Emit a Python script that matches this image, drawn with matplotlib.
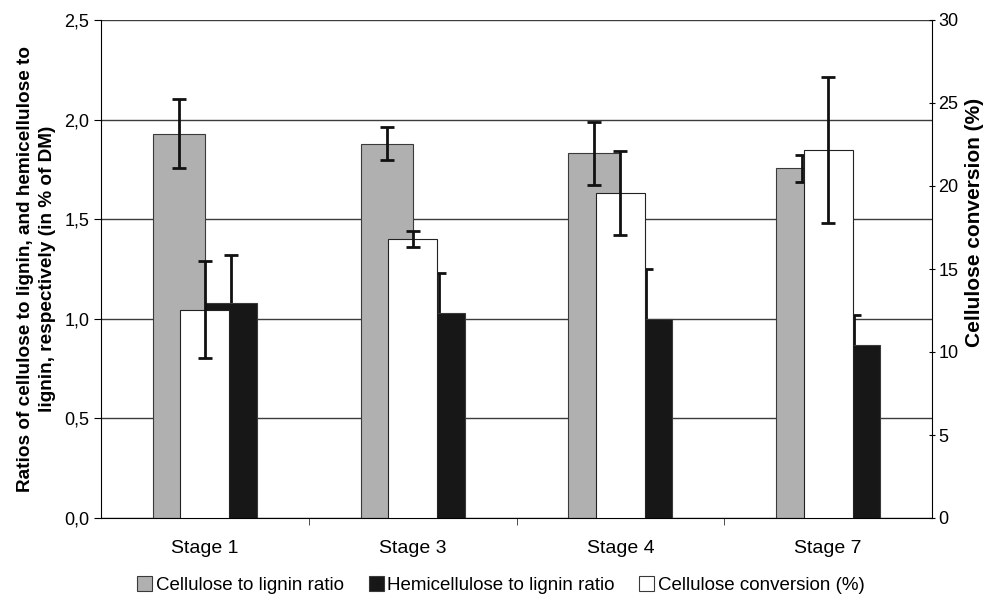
import numpy as np
import matplotlib
matplotlib.use("Agg")
import matplotlib.pyplot as plt
from matplotlib.patches import Patch
from matplotlib.ticker import FuncFormatter

plt.rcParams['font.family'] = ['Liberation Sans', 'DejaVu Sans']

# values
stages = ['Stage 1', 'Stage 3', 'Stage 4', 'Stage 7']
cel_lig = [1.93, 1.88, 1.83, 1.755]          # left axis
cel_lig_err = [0.175, 0.082, 0.16, 0.067]
hemi_lig = [1.08, 1.03, 1.00, 0.87]          # left axis
hemi_lig_err = [0.24, 0.20, 0.25, 0.147]
conversion = [12.55, 16.8, 19.56, 22.15]      # right axis (%)
conversion_err = [2.94, 0.5, 2.54, 4.4]

x = np.arange(len(stages))

fig = plt.figure(figsize=(9.84, 5.94), dpi=100)
ax1 = fig.add_axes([101/984, 1 - 518/594, (932-101)/984, (518-20)/594])
ax2 = ax1.twinx()

bw = 0.25
err_kw = dict(ecolor='#111111', elinewidth=2, capsize=5, capthick=2)
ax1.bar(x - bw/2, cel_lig, bw, color='#afb0af', edgecolor='#3a3a3a', lw=0.8,
        yerr=cel_lig_err, error_kw=err_kw, zorder=2)
# error bars behind the black bars so their lower half is hidden, as in the figure
ax1.bar(x + bw/2, hemi_lig, bw, color='#171717', edgecolor='#3a3a3a', lw=0.8,
        yerr=hemi_lig_err, error_kw=dict(err_kw, zorder=1.5), zorder=2)
ax2.bar(x, conversion, 0.236, color='white', edgecolor='#222222', lw=0.8,
        yerr=conversion_err, error_kw=err_kw, zorder=2)

ax1.set_xlim(-0.5, len(stages) - 0.5)
ax1.set_ylim(0, 2.5)
ax2.set_ylim(0, 30)
ax1.set_yticks(np.arange(0, 2.51, 0.5))
ax1.yaxis.set_major_formatter(FuncFormatter(lambda v, p: f'{v:.1f}'.replace('.', ',')))
ax2.set_yticks(np.arange(0, 31, 5))

ax1.set_axisbelow(True)
ax1.yaxis.grid(True, color='#3c3c3c', lw=1)
ax1.set_xticks(x)
ax1.set_xticklabels(stages, fontsize=14)
ax1.set_xticks(np.arange(0.5, len(stages) - 0.5, 1), minor=True)
ax1.tick_params(axis='x', which='major', length=0, pad=16)
ax1.tick_params(axis='x', which='minor', length=5, direction='out', color='#333333')
ax1.tick_params(axis='y', labelsize=13, length=5, direction='out')
ax2.tick_params(axis='y', labelsize=13, length=5, direction='inout', pad=2)

for a in (ax1, ax2):
    a.spines['top'].set_visible(False)
ax1.spines['right'].set_visible(False)
ax2.spines['left'].set_visible(False)
ax2.spines['bottom'].set_visible(False)

ax1.set_ylabel('Ratios of cellulose to lignin, and hemicellulose to\nlignin, respectively (in % of DM)',
               fontsize=13.7, fontweight='bold', linespacing=1.4)
ax1.yaxis.set_label_coords(-0.054, 0.5)
ax2.set_ylabel('Cellulose conversion (%)', fontsize=15, fontweight='bold')
ax2.yaxis.set_label_coords(1.04, 0.594)

handles = [Patch(facecolor='#afb0af', edgecolor='#3a3a3a', lw=0.8),
           Patch(facecolor='#171717', edgecolor='#3a3a3a', lw=0.8),
           Patch(facecolor='white', edgecolor='#3a3a3a', lw=0.8)]
labels = ['Cellulose to lignin ratio', 'Hemicellulose to lignin ratio', 'Cellulose conversion (%)']
fig.legend(handles, labels, loc='center', bbox_to_anchor=(501/984, 1 - 585/594), ncol=3,
           frameon=False, fontsize=13.5, handlelength=0.8, handleheight=0.8,
           handletextpad=0.2, columnspacing=1.3)

fig.savefig('out.png', dpi=100)
